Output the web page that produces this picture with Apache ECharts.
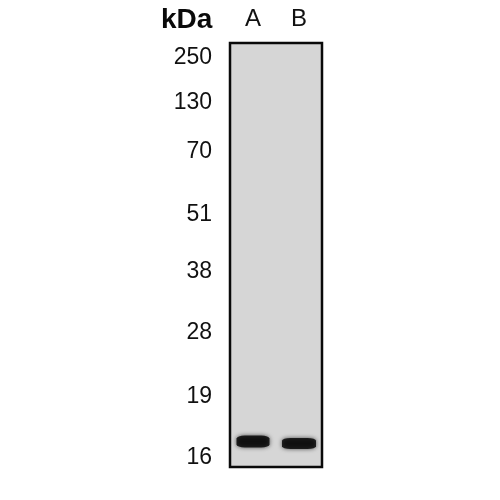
<!DOCTYPE html>
<html>
<head>
<meta charset="utf-8">
<script src="https://cdn.jsdelivr.net/npm/echarts@6/dist/echarts.min.js"></script>
<style>
  html, body { margin: 0; padding: 0; background: #fff; }
  #chart { width: 500px; height: 500px; }
</style>
</head>
<body>
<div id="chart"></div>
<script>
// marker ladder (kDa) and its migration distance from the top of the membrane
var markerKda = ['250', '130', '70', '51', '38', '28', '19', '16'];
var markerPos = [15, 60, 109, 172, 229, 290, 354, 415];

// lanes and the band found in each one (migration distance)
var lanes = ['A', 'B'];
var bandPos = [398.5, 400.5];

var labelFont = '"Liberation Sans", Arial, sans-serif';

var posToKda = {};
markerPos.forEach(function (p, i) { posToKda[p] = markerKda[i]; });

var myChart = echarts.init(document.getElementById('chart'));

var option = {
  animation: false,
  title: {
    text: 'kDa',
    left: 156,
    top: 1,
    textStyle: { fontFamily: labelFont, fontWeight: 'bold', fontSize: 28, color: '#0a0a0a' }
  },
  grid: {
    left: 230, top: 43, width: 92, height: 424,
    show: true,
    backgroundColor: '#d6d6d6',
    borderColor: '#0a0a0a',
    borderWidth: 2.5
  },
  xAxis: {
    type: 'category',
    data: lanes,
    position: 'top',
    axisLine: { show: false },
    axisTick: { show: false },
    axisLabel: { fontFamily: labelFont, fontSize: 24, color: '#111', margin: 12 }
  },
  yAxis: {
    type: 'value',
    inverse: true,
    min: 0,
    max: 424,
    axisLine: { show: false },
    axisTick: { show: false },
    splitLine: { show: false },
    axisLabel: {
      customValues: markerPos,
      fontFamily: labelFont,
      fontSize: 23,
      color: '#111',
      margin: 18,
      formatter: function (v) { return posToKda[v] || ''; }
    }
  },
  series: [
    {
      type: 'scatter',
      symbol: 'roundRect',
      data: lanes.map(function (l, i) {
        return {
          value: [l, bandPos[i]],
          symbolSize: i === 0 ? [33, 12] : [34, 11]
        };
      }),
      itemStyle: {
        color: '#000',
        shadowBlur: 4,
        shadowColor: 'rgba(0,0,0,0.8)'
      },
      silent: true
    }
  ]
};

myChart.setOption(option);
</script>
</body>
</html>
